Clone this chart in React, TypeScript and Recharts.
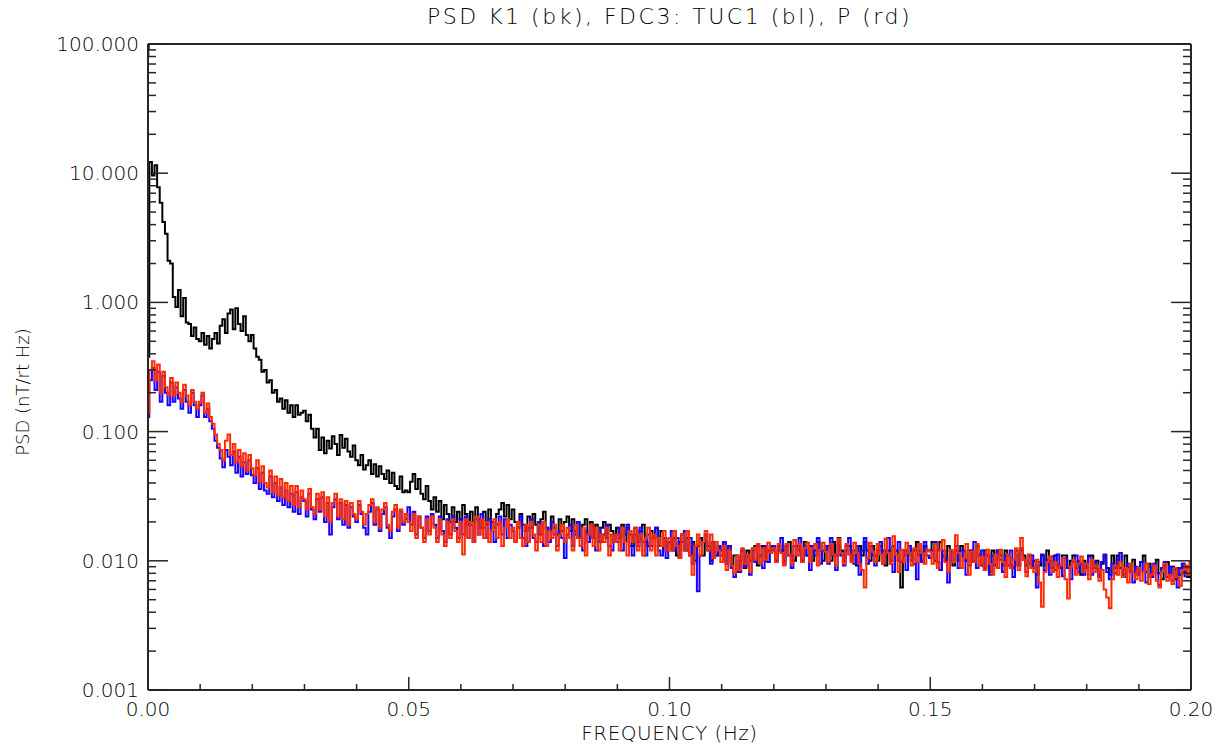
import React from "react";
import { LineChart, Line, XAxis, YAxis } from "recharts";

// Frequency grid step (Hz) — spectra sampled every 0.0005 Hz from 0 to 0.2 Hz
const FREQ_STEP = 0.0005;

const k1Values: number[] = [
  0.38, 12.2, 9.6, 11.5, 7.8, 5.9, 4.2, 3.4, 2.1, 2.0, 1.1, 0.92, 1.25, 0.78, 1.08, 0.70, 0.68, 0.55, 0.64, 0.52,
  0.50, 0.58, 0.47, 0.55, 0.44, 0.52, 0.58, 0.48, 0.66, 0.74, 0.58, 0.82, 0.88, 0.62, 0.90, 0.68, 0.60, 0.78, 0.56, 0.50,
  0.56, 0.44, 0.38, 0.36, 0.29, 0.30, 0.24, 0.25, 0.20, 0.21, 0.17, 0.18, 0.15, 0.175, 0.14, 0.16, 0.13, 0.16, 0.135, 0.14,
  0.145, 0.12, 0.135, 0.105, 0.09, 0.105, 0.072, 0.09, 0.068, 0.085, 0.074, 0.092, 0.08, 0.066, 0.094, 0.075, 0.088, 0.07, 0.064, 0.078,
  0.06, 0.055, 0.066, 0.051, 0.055, 0.06, 0.047, 0.056, 0.045, 0.054, 0.047, 0.043, 0.05, 0.04, 0.048, 0.038, 0.036, 0.045, 0.034, 0.035,
  0.034, 0.041, 0.047, 0.036, 0.043, 0.033, 0.03, 0.038, 0.029, 0.025, 0.031, 0.024, 0.029, 0.021, 0.027, 0.023, 0.02, 0.026, 0.02, 0.024,
  0.021, 0.027, 0.023, 0.019, 0.024, 0.02, 0.026, 0.021, 0.018, 0.024, 0.019, 0.025, 0.02, 0.018, 0.023, 0.025, 0.028, 0.022, 0.027, 0.021,
  0.025, 0.02, 0.018, 0.023, 0.019, 0.017, 0.022, 0.018, 0.023, 0.019, 0.016, 0.021, 0.024, 0.018, 0.017, 0.022, 0.018, 0.016, 0.021, 0.017,
  0.02, 0.022, 0.017, 0.021, 0.016, 0.02, 0.015, 0.019, 0.021, 0.016, 0.02, 0.015, 0.019, 0.014, 0.018, 0.02, 0.015, 0.019, 0.017, 0.014,
  0.018, 0.015, 0.019, 0.014, 0.018, 0.016, 0.013, 0.018, 0.014, 0.017, 0.019, 0.014, 0.013, 0.017, 0.015, 0.018, 0.013, 0.017, 0.015, 0.012,
  0.014, 0.012, 0.015, 0.011, 0.014, 0.016, 0.012, 0.015, 0.011, 0.014, 0.010, 0.013, 0.015, 0.011, 0.014, 0.013, 0.010, 0.014, 0.011, 0.013,
  0.012, 0.014, 0.010, 0.013, 0.0092, 0.011, 0.0082, 0.010, 0.012, 0.0088, 0.012, 0.010, 0.012, 0.013, 0.0092, 0.011, 0.013, 0.010, 0.012, 0.013,
  0.012, 0.010, 0.013, 0.012, 0.010, 0.013, 0.014, 0.011, 0.010, 0.013, 0.012, 0.010, 0.014, 0.011, 0.013, 0.010, 0.012, 0.014, 0.012, 0.010,
  0.012, 0.013, 0.010, 0.014, 0.011, 0.015, 0.012, 0.010, 0.012, 0.013, 0.010, 0.012, 0.0092, 0.013, 0.011, 0.014, 0.012, 0.010, 0.013, 0.011,
  0.010, 0.013, 0.012, 0.0092, 0.012, 0.010, 0.013, 0.012, 0.010, 0.0062, 0.011, 0.012, 0.013, 0.010, 0.012, 0.014, 0.011, 0.010, 0.013, 0.012,
  0.012, 0.014, 0.010, 0.012, 0.014, 0.011, 0.010, 0.013, 0.012, 0.0092, 0.012, 0.010, 0.013, 0.012, 0.010, 0.0092, 0.012, 0.010, 0.013, 0.011,
  0.0092, 0.012, 0.011, 0.0082, 0.012, 0.0092, 0.012, 0.011, 0.0092, 0.012, 0.011, 0.0092, 0.0088, 0.012, 0.0092, 0.012, 0.011, 0.0092, 0.011, 0.0088,
  0.010, 0.0078, 0.0092, 0.011, 0.0092, 0.012, 0.010, 0.0088, 0.011, 0.0092, 0.0088, 0.011, 0.011, 0.0088, 0.010, 0.011, 0.0088, 0.010, 0.0078, 0.010,
  0.0088, 0.011, 0.011, 0.0088, 0.010, 0.0078, 0.0095, 0.011, 0.0088, 0.0078, 0.011, 0.0088, 0.011, 0.0088, 0.0078, 0.011, 0.009, 0.0082, 0.0102, 0.0088,
  0.0078, 0.0098, 0.011, 0.0082, 0.0095, 0.0075, 0.0092, 0.0102, 0.008, 0.0072, 0.0092, 0.0098, 0.0078, 0.009, 0.0072, 0.0088, 0.0078, 0.0095, 0.0082, 0.0075, 0.0088,
];

const tuc1Values: number[] = [
  0.13, 0.25, 0.31, 0.21, 0.29, 0.17, 0.27, 0.2, 0.16, 0.24, 0.17, 0.22, 0.18, 0.15, 0.21, 0.17, 0.14, 0.2, 0.16, 0.13,
  0.16, 0.19, 0.13, 0.15, 0.12, 0.105, 0.085, 0.075, 0.062, 0.053, 0.072, 0.064, 0.055, 0.07, 0.048, 0.064, 0.045, 0.058, 0.047, 0.06,
  0.046, 0.04, 0.052, 0.036, 0.048, 0.035, 0.033, 0.045, 0.031, 0.04, 0.029, 0.037, 0.027, 0.035, 0.026, 0.033, 0.024, 0.034, 0.023, 0.031,
  0.029, 0.022, 0.033, 0.025, 0.021, 0.03, 0.024, 0.031, 0.02, 0.028, 0.016, 0.026, 0.03, 0.021, 0.028, 0.019, 0.027, 0.018, 0.026, 0.022,
  0.02, 0.027, 0.023, 0.018, 0.016, 0.024, 0.028, 0.019, 0.025, 0.017, 0.023, 0.026, 0.018, 0.015, 0.022, 0.025, 0.017, 0.024, 0.019, 0.021,
  0.026, 0.019, 0.024, 0.016, 0.022, 0.018, 0.015, 0.022, 0.017, 0.023, 0.019, 0.015, 0.022, 0.017, 0.014, 0.021, 0.016, 0.022, 0.018, 0.015,
  0.021, 0.016, 0.022, 0.015, 0.019, 0.014, 0.021, 0.016, 0.023, 0.018, 0.015, 0.021, 0.017, 0.014, 0.019, 0.022, 0.016, 0.021, 0.015, 0.019,
  0.017, 0.014, 0.02, 0.022, 0.015, 0.013, 0.018, 0.021, 0.015, 0.014, 0.02, 0.016, 0.013, 0.018, 0.014, 0.02, 0.016, 0.013, 0.017, 0.015,
  0.0105, 0.016, 0.019, 0.013, 0.017, 0.02, 0.015, 0.012, 0.017, 0.014, 0.019, 0.015, 0.012, 0.018, 0.014, 0.016, 0.019, 0.013, 0.012, 0.016,
  0.014, 0.018, 0.012, 0.016, 0.019, 0.013, 0.011, 0.016, 0.013, 0.018, 0.014, 0.011, 0.016, 0.013, 0.015, 0.018, 0.012, 0.011, 0.015, 0.0105,
  0.014, 0.017, 0.012, 0.015, 0.0105, 0.014, 0.017, 0.012, 0.015, 0.0095, 0.013, 0.0058, 0.011, 0.014, 0.016, 0.012, 0.0095, 0.014, 0.011, 0.013,
  0.011, 0.014, 0.0095, 0.013, 0.0088, 0.0075, 0.011, 0.0082, 0.012, 0.009, 0.011, 0.0078, 0.012, 0.0098, 0.013, 0.011, 0.0088, 0.013, 0.0098, 0.012,
  0.013, 0.0098, 0.012, 0.015, 0.0095, 0.013, 0.011, 0.0088, 0.013, 0.011, 0.015, 0.0098, 0.013, 0.011, 0.0085, 0.013, 0.011, 0.015, 0.0095, 0.012,
  0.013, 0.0095, 0.015, 0.011, 0.0085, 0.013, 0.011, 0.0092, 0.013, 0.015, 0.011, 0.0095, 0.013, 0.0078, 0.012, 0.015, 0.0095, 0.013, 0.011, 0.0092,
  0.012, 0.014, 0.0095, 0.012, 0.015, 0.0095, 0.0082, 0.012, 0.014, 0.0098, 0.012, 0.0085, 0.013, 0.011, 0.0095, 0.0072, 0.012, 0.0098, 0.014, 0.011,
  0.0105, 0.012, 0.014, 0.0098, 0.0085, 0.012, 0.0105, 0.0068, 0.012, 0.0098, 0.013, 0.0088, 0.012, 0.0105, 0.0078, 0.012, 0.0098, 0.014, 0.0088, 0.011,
  0.012, 0.0088, 0.011, 0.0078, 0.011, 0.0092, 0.012, 0.0102, 0.0082, 0.011, 0.0092, 0.012, 0.0075, 0.011, 0.0092, 0.0125, 0.0102, 0.0082, 0.0095, 0.011,
  0.0088, 0.0062, 0.0098, 0.0112, 0.0085, 0.0102, 0.0078, 0.0108, 0.0085, 0.0112, 0.0092, 0.0076, 0.0105, 0.0088, 0.0072, 0.0098, 0.011, 0.0082, 0.0095, 0.0078,
  0.0092, 0.0108, 0.0078, 0.0098, 0.0086, 0.0075, 0.0098, 0.0112, 0.0082, 0.0072, 0.0095, 0.008, 0.0102, 0.0115, 0.0085, 0.0075, 0.0095, 0.0082, 0.0068, 0.009,
  0.0078, 0.0098, 0.0082, 0.0068, 0.009, 0.0075, 0.0095, 0.008, 0.0065, 0.0088, 0.0098, 0.0075, 0.009, 0.007, 0.0085, 0.0062, 0.0088, 0.0095, 0.0076, 0.0088, 0.0098,
];

const pValues: number[] = [
  0.14, 0.3, 0.35, 0.25, 0.33, 0.2, 0.29, 0.22, 0.19, 0.26, 0.19, 0.24, 0.2, 0.17, 0.23, 0.19, 0.16, 0.21, 0.17, 0.15,
  0.17, 0.2, 0.14, 0.165, 0.13, 0.115, 0.095, 0.08, 0.072, 0.06, 0.085, 0.095, 0.066, 0.08, 0.058, 0.072, 0.054, 0.068, 0.05, 0.066,
  0.052, 0.046, 0.06, 0.041, 0.054, 0.04, 0.037, 0.05, 0.034, 0.045, 0.032, 0.043, 0.031, 0.04, 0.029, 0.038, 0.027, 0.038, 0.026, 0.035,
  0.03, 0.025, 0.036, 0.026, 0.023, 0.033, 0.025, 0.034, 0.022, 0.031, 0.02, 0.028, 0.033, 0.022, 0.03, 0.021, 0.029, 0.019, 0.028, 0.023,
  0.021, 0.029, 0.024, 0.019, 0.023, 0.027, 0.03, 0.02, 0.026, 0.018, 0.025, 0.028, 0.019, 0.017, 0.024, 0.027, 0.018, 0.025, 0.02, 0.023,
  0.02, 0.017, 0.023, 0.015, 0.022, 0.018, 0.014, 0.021, 0.016, 0.022, 0.018, 0.014, 0.021, 0.016, 0.013, 0.02, 0.015, 0.021, 0.017, 0.014,
  0.02, 0.0112, 0.021, 0.015, 0.02, 0.014, 0.022, 0.016, 0.021, 0.015, 0.02, 0.014, 0.017, 0.021, 0.015, 0.02, 0.013, 0.018, 0.021, 0.015,
  0.018, 0.014, 0.02, 0.015, 0.013, 0.019, 0.014, 0.02, 0.016, 0.012, 0.019, 0.014, 0.02, 0.013, 0.017, 0.015, 0.019, 0.012, 0.016, 0.019,
  0.014, 0.018, 0.015, 0.012, 0.019, 0.015, 0.013, 0.018, 0.011, 0.016, 0.019, 0.013, 0.018, 0.012, 0.016, 0.014, 0.018, 0.011, 0.016, 0.014,
  0.016, 0.012, 0.018, 0.014, 0.011, 0.017, 0.014, 0.018, 0.012, 0.016, 0.011, 0.015, 0.018, 0.012, 0.016, 0.011, 0.015, 0.013, 0.017, 0.012,
  0.015, 0.012, 0.017, 0.013, 0.0105, 0.016, 0.012, 0.017, 0.011, 0.0078, 0.013, 0.016, 0.011, 0.014, 0.017, 0.012, 0.016, 0.0105, 0.014, 0.012,
  0.0098, 0.013, 0.0085, 0.012, 0.0092, 0.008, 0.011, 0.0085, 0.0125, 0.0095, 0.0112, 0.0082, 0.0125, 0.0102, 0.0135, 0.0095, 0.0125, 0.0102, 0.0138, 0.0115,
  0.0125, 0.0098, 0.0135, 0.0115, 0.0092, 0.0135, 0.0112, 0.0095, 0.0145, 0.011, 0.0135, 0.0098, 0.0125, 0.0138, 0.0098, 0.0125, 0.0135, 0.0092, 0.0122, 0.0138,
  0.0118, 0.0098, 0.0135, 0.0112, 0.0092, 0.0148, 0.0115, 0.0095, 0.0135, 0.0112, 0.0098, 0.0138, 0.0115, 0.0095, 0.0085, 0.0062, 0.0105, 0.0138, 0.0118, 0.0098,
  0.0135, 0.0112, 0.0095, 0.0148, 0.0115, 0.0095, 0.0155, 0.0112, 0.0082, 0.0122, 0.0098, 0.0138, 0.0115, 0.0092, 0.0125, 0.0098, 0.0135, 0.0115, 0.0095, 0.0122,
  0.0118, 0.0095, 0.0135, 0.0088, 0.0122, 0.0145, 0.0098, 0.0082, 0.0122, 0.0098, 0.0158, 0.0115, 0.0088, 0.0105, 0.0135, 0.0078, 0.0118, 0.0098, 0.0135, 0.0092,
  0.0108, 0.0085, 0.0122, 0.0095, 0.0078, 0.0112, 0.0088, 0.0122, 0.0098, 0.0075, 0.0112, 0.0088, 0.0102, 0.0125, 0.0085, 0.015, 0.0102, 0.0076, 0.0112, 0.0088,
  0.0082, 0.0102, 0.0068, 0.0044, 0.0082, 0.0098, 0.0108, 0.0082, 0.0098, 0.0075, 0.0092, 0.0105, 0.0072, 0.0051, 0.009, 0.0102, 0.0078, 0.0095, 0.0108, 0.0082,
  0.0095, 0.0072, 0.0102, 0.0082, 0.0092, 0.007, 0.0085, 0.006, 0.0052, 0.0043, 0.0072, 0.0092, 0.0078, 0.0098, 0.0075, 0.0088, 0.0068, 0.0095, 0.008, 0.0072,
  0.0088, 0.007, 0.0082, 0.0095, 0.0066, 0.0078, 0.0092, 0.007, 0.0062, 0.0082, 0.0095, 0.007, 0.0078, 0.0066, 0.0088, 0.0075, 0.0064, 0.0085, 0.0092, 0.0078, 0.0098,
];

const xTicks: number[] = [
  0, 0.01, 0.02, 0.03, 0.04, 0.05, 0.06, 0.07, 0.08, 0.09, 0.1,
  0.11, 0.12, 0.13, 0.14, 0.15, 0.16, 0.17, 0.18, 0.19, 0.2,
];
const xMajorTicks: number[] = [0, 0.05, 0.1, 0.15, 0.2];
const yDecades: number[] = [0.001, 0.01, 0.1, 1, 10, 100];
const yMinorMultipliers: number[] = [2, 3, 4, 5, 6, 7, 8, 9];

const TITLE = "PSD K1 (bk), FDC3: TUC1 (bl), P (rd)";
const X_LABEL = "FREQUENCY (Hz)";
const Y_LABEL = "PSD (nT/rt Hz)";

const n = Math.max(k1Values.length, tuc1Values.length, pValues.length);
const data = Array.from({ length: n }, (_, i) => ({
  f: +(i * FREQ_STEP).toFixed(5),
  k1: k1Values[i],
  tuc1: tuc1Values[i],
  p: pValues[i],
}));

const yTicks: number[] = [];
yDecades.forEach((d, idx) => {
  yTicks.push(d);
  if (idx < yDecades.length - 1) yMinorMultipliers.forEach((m) => yTicks.push(+(d * m).toPrecision(3)));
});

const FONT = "'DejaVu Sans', sans-serif";
const FONT_WEIGHT = 300;
const AXIS_COLOR = "#262626";
const TEXT_COLOR = "#000";

const isXMajor = (v: number) => xMajorTicks.some((t) => Math.abs(t - v) < 1e-9);
const isYMajor = (v: number) => yDecades.some((t) => Math.abs(Math.log10(t) - Math.log10(v)) < 1e-6);

const BottomTick = (props: any) => {
  const { x, y, payload } = props;
  const major = isXMajor(payload.value);
  const len = major ? 13 : 6;
  return (
    <g>
      <line x1={x} y1={y} x2={x} y2={y - len} stroke={AXIS_COLOR} strokeWidth={1.5} />
      {major && (
        <text x={x} y={y + 26} textAnchor="middle" fontFamily={FONT} fontWeight={FONT_WEIGHT} fontSize={20} fill={TEXT_COLOR}>
          {payload.value.toFixed(2)}
        </text>
      )}
    </g>
  );
};

const TopTick = (props: any) => {
  const { x, y, payload } = props;
  const major = isXMajor(payload.value);
  const len = major ? 13 : 6;
  return <line x1={x} y1={y} x2={x} y2={y + len} stroke={AXIS_COLOR} strokeWidth={1.5} />;
};

const LeftTick = (props: any) => {
  const { x, y, payload } = props;
  const major = isYMajor(payload.value);
  const len = major ? 20 : 8;
  return (
    <g>
      <line x1={x} y1={y} x2={x + len} y2={y} stroke={AXIS_COLOR} strokeWidth={1.5} />
      {major && (
        <text x={x - 9} y={y + 7} textAnchor="end" fontFamily={FONT} fontWeight={FONT_WEIGHT} fontSize={20} fill={TEXT_COLOR}>
          {payload.value.toFixed(3)}
        </text>
      )}
    </g>
  );
};

const RightTick = (props: any) => {
  const { x, y, payload } = props;
  const major = isYMajor(payload.value);
  const len = major ? 20 : 8;
  return <line x1={x} y1={y} x2={x - len} y2={y} stroke={AXIS_COLOR} strokeWidth={1.5} />;
};

export default function App() {
  return (
    <div style={{ position: "absolute", left: 0, top: 0, width: 1223, height: 753, background: "#fff" }}>
      <LineChart width={1223} height={753} data={data} margin={{ top: 0, right: 0, bottom: 0, left: 0 }}>
        <XAxis
          xAxisId="bottom"
          dataKey="f"
          type="number"
          domain={[0, 0.2]}
          ticks={xTicks}
          interval={0}
          allowDataOverflow
          height={63}
          orientation="bottom"
          tickSize={0}
          tickMargin={0}
          tickLine={false}
          axisLine={{ stroke: AXIS_COLOR, strokeWidth: 2 }}
          tick={<BottomTick />}
        />
        <XAxis
          xAxisId="top"
          type="number"
          domain={[0, 0.2]}
          ticks={xTicks}
          interval={0}
          allowDataOverflow
          height={44}
          orientation="top"
          tickSize={0}
          tickMargin={0}
          tickLine={false}
          axisLine={{ stroke: AXIS_COLOR, strokeWidth: 2 }}
          tick={<TopTick />}
        />
        <YAxis
          yAxisId="left"
          type="number"
          scale="log"
          domain={[0.001, 100]}
          ticks={yTicks}
          interval={0}
          allowDataOverflow
          width={148}
          orientation="left"
          tickSize={0}
          tickMargin={0}
          tickLine={false}
          axisLine={{ stroke: AXIS_COLOR, strokeWidth: 2 }}
          tick={<LeftTick />}
        />
        <YAxis
          yAxisId="right"
          type="number"
          scale="log"
          domain={[0.001, 100]}
          ticks={yTicks}
          interval={0}
          allowDataOverflow
          width={32}
          orientation="right"
          tickSize={0}
          tickMargin={0}
          tickLine={false}
          axisLine={{ stroke: AXIS_COLOR, strokeWidth: 2 }}
          tick={<RightTick />}
        />
        <Line xAxisId="bottom" yAxisId="left" dataKey="k1" type="step" stroke="#000000" strokeWidth={2} dot={false} isAnimationActive={false} />
        <Line xAxisId="bottom" yAxisId="left" dataKey="tuc1" type="step" stroke="#1a00ff" strokeWidth={2} dot={false} isAnimationActive={false} />
        <Line xAxisId="bottom" yAxisId="left" dataKey="p" type="step" stroke="#ff2a00" strokeWidth={2} dot={false} isAnimationActive={false} />
      </LineChart>
      <div style={{ position: "absolute", left: 148, width: 1043, top: 4, textAlign: "center", fontFamily: FONT, fontWeight: FONT_WEIGHT, fontSize: 22, letterSpacing: 2.5, color: TEXT_COLOR, whiteSpace: "nowrap" }}>
        {TITLE}
      </div>
      <div style={{ position: "absolute", left: 148, width: 1043, top: 721, textAlign: "center", fontFamily: FONT, fontWeight: FONT_WEIGHT, fontSize: 20, letterSpacing: 0.5, color: TEXT_COLOR, whiteSpace: "nowrap" }}>
        {X_LABEL}
      </div>
      <div style={{ position: "absolute", left: 22, top: 392, width: 0, height: 0 }}>
        <div style={{ position: "absolute", transform: "translate(-50%, -50%) rotate(-90deg)", fontFamily: FONT, fontWeight: FONT_WEIGHT, fontSize: 18, color: TEXT_COLOR, whiteSpace: "nowrap" }}>
          {Y_LABEL}
        </div>
      </div>
    </div>
  );
}
